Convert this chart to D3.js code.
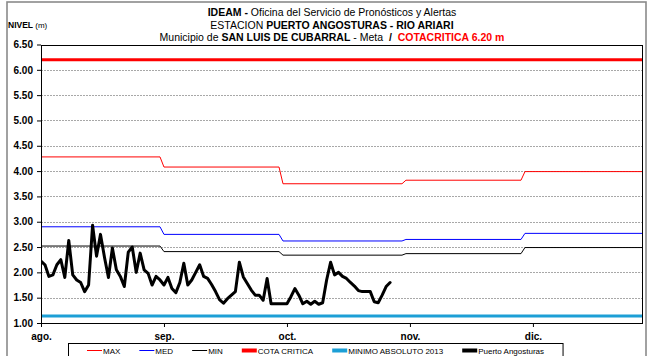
<!DOCTYPE html>
<html>
<head>
<meta charset="utf-8">
<script src="https://cdn.jsdelivr.net/npm/d3@7"></script>
<style>
  html, body { margin: 0; padding: 0; background: #fff; }
  svg { display: block; font-family: "Liberation Sans", Arial, sans-serif; }
  text { white-space: pre; }
</style>
</head>
<body>
<svg id="chart" width="653" height="356"></svg>
<script>
// Month labels along the x axis and the number of days of each month
const months = ["ago.", "sep.", "oct.", "nov.", "dic."];
const monthDays = [31, 30, 31, 30, 31];
const labelEvery = 31; // a month label every 31 days

// Monthly reference levels (m)
const maxLevels = [4.28, 4.08, 3.75, 3.82, 3.99];
const medLevels = [2.90, 2.75, 2.62, 2.65, 2.77];
const minLevels = [2.52, 2.41, 2.34, 2.37, 2.49];

// Fixed thresholds (m)
const cotaCritica = 6.20;
const minimoAbsoluto2013 = 1.14;

// Y axis ticks (m)
const yTicks = [1.0, 1.5, 2.0, 2.5, 3.0, 3.5, 4.0, 4.5, 5.0, 5.5, 6.0, 6.5];

// Daily level at Puerto Angosturas from 1 Aug (m)
const puertoAngosturas = [
  2.22, 2.15, 1.92, 1.95, 2.15, 2.25, 1.90, 2.63, 1.95, 1.85,
  1.80, 1.62, 1.75, 2.93, 2.32, 2.75, 2.30, 1.90, 2.48, 2.05,
  1.92, 1.72, 2.40, 2.50, 2.00, 2.38, 2.05, 1.98, 1.75, 1.92,
  1.85, 1.75, 1.90, 1.68, 1.60, 1.80, 2.18, 1.75, 1.85, 2.00,
  2.15, 1.92, 1.88, 1.76, 1.62, 1.46, 1.39, 1.48, 1.55, 1.62,
  2.20, 1.91, 1.78, 1.65, 1.55, 1.55, 1.45, 1.88, 1.38, 1.38,
  1.38, 1.38, 1.38, 1.52, 1.68, 1.55, 1.38, 1.43, 1.37, 1.43,
  1.37, 1.40, 1.85, 2.20, 1.95, 2.00, 1.92, 1.88, 1.80, 1.73,
  1.64, 1.62, 1.62, 1.62, 1.42, 1.40, 1.55, 1.72, 1.80
];

const svg = d3.select("#chart");
const plot = { left: 41, right: 642, top: 44.5, bottom: 323 };

const x = d3.scaleLinear().domain([0, 151.5]).range([plot.left, plot.right]);
const y = d3.scaleLinear().domain([1.0, 6.5]).range([plot.bottom, plot.top]);

// Outer chart frame
svg.append("rect")
  .attr("x", 7).attr("y", 2).attr("width", 639).attr("height", 380)
  .attr("fill", "none").attr("stroke", "#8a8a8a").attr("stroke-width", 1.6);

// Titles
const title = svg.append("g").attr("font-size", 10.5).attr("text-anchor", "middle");
const t1 = title.append("text").attr("x", 332).attr("y", 16);
t1.append("tspan").attr("font-weight", "bold").text("IDEAM - ");
t1.append("tspan").text("Oficina del Servicio de Pronósticos y Alertas");
const t2 = title.append("text").attr("x", 332).attr("y", 28.5);
t2.append("tspan").text("ESTACION ");
t2.append("tspan").attr("font-weight", "bold").text("PUERTO ANGOSTURAS - RIO ARIARI");
const t3 = title.append("text").attr("x", 332).attr("y", 40.5);
t3.append("tspan").text("Municipio de ");
t3.append("tspan").attr("font-weight", "bold").text("SAN LUIS DE CUBARRAL");
t3.append("tspan").text(" - Meta  ");
t3.append("tspan").attr("font-weight", "bold").text("/  ");
t3.append("tspan").attr("font-weight", "bold").attr("fill", "#ff0000").text("COTACRITICA 6.20 m");

const unit = svg.append("text").attr("x", 8).attr("y", 28).attr("font-size", 8.5);
unit.append("tspan").attr("font-weight", "bold").text("NIVEL ");
unit.append("tspan").attr("font-size", 8).text("(m)");

// Dotted gridlines
svg.append("g")
  .selectAll("line")
  .data(yTicks.filter(v => v > 1.0 && v < 6.5))
  .join("line")
  .attr("x1", plot.left).attr("x2", plot.right)
  .attr("y1", d => Math.round(y(d)) + 0.5).attr("y2", d => Math.round(y(d)) + 0.5)
  .attr("stroke", "#a8a8a8").attr("stroke-width", 1).attr("stroke-dasharray", "2,1");

// Axes
const yAxis = svg.append("g")
  .attr("transform", `translate(${plot.left},0)`)
  .call(d3.axisLeft(y).tickValues(yTicks).tickFormat(d3.format(".2f"))
    .tickSize(4).tickSizeOuter(0).tickPadding(4));
yAxis.select(".domain").remove();
yAxis.selectAll("text").attr("font-size", 10).attr("font-weight", "bold")
  .attr("fill", "#000").attr("font-family", "Liberation Sans, Arial, sans-serif");
yAxis.selectAll("line").attr("stroke", "#000");

const xTickValues = months.map((m, i) => i * labelEvery);
const xAxis = svg.append("g")
  .attr("transform", `translate(0,${plot.bottom})`)
  .call(d3.axisBottom(x).tickValues(xTickValues)
    .tickFormat(d => months[d / labelEvery])
    .tickSize(4).tickSizeOuter(0).tickPadding(6));
xAxis.select(".domain").remove();
xAxis.selectAll("text").attr("font-size", 10).attr("font-weight", "bold")
  .attr("fill", "#000").attr("font-family", "Liberation Sans, Arial, sans-serif");
xAxis.selectAll("line").attr("stroke", "#000");

// Clip for series
svg.append("clipPath").attr("id", "plotClip")
  .append("rect")
  .attr("x", plot.left).attr("y", plot.top)
  .attr("width", plot.right - plot.left).attr("height", plot.bottom - plot.top);

const series = svg.append("g").attr("clip-path", "url(#plotClip)");
const line = d3.line().x(d => x(d[0])).y(d => y(d[1]));

// Monthly steps: each month level spans its first to last day
const monthStarts = d3.cumsum([0, ...monthDays.slice(0, -1)]);
function stepPoints(levels) {
  const pts = [];
  levels.forEach((v, m) => {
    pts.push([monthStarts[m], v]);
    pts.push([monthStarts[m] + monthDays[m] - 1, v]);
  });
  return pts;
}
const lastDay = d3.sum(monthDays) - 1;

series.append("path").datum([[0, minimoAbsoluto2013], [lastDay, minimoAbsoluto2013]])
  .attr("d", line).attr("fill", "none").attr("stroke", "#1c9fd6").attr("stroke-width", 3);
series.append("path").datum([[0, cotaCritica], [lastDay, cotaCritica]])
  .attr("d", line).attr("fill", "none").attr("stroke", "#ff0000").attr("stroke-width", 3);
series.append("path").datum(stepPoints(maxLevels))
  .attr("d", line).attr("fill", "none").attr("stroke", "#ff0000").attr("stroke-width", 1);
series.append("path").datum(stepPoints(medLevels))
  .attr("d", line).attr("fill", "none").attr("stroke", "#0000ff").attr("stroke-width", 1);
series.append("path").datum(stepPoints(minLevels))
  .attr("d", line).attr("fill", "none").attr("stroke", "#000").attr("stroke-width", 1);

series.append("path").datum(puertoAngosturas.map((v, i) => [i, v]))
  .attr("d", line).attr("fill", "none").attr("stroke", "#000")
  .attr("stroke-width", 3).attr("stroke-linejoin", "round").attr("stroke-linecap", "round");

// Plot border
svg.append("rect")
  .attr("x", plot.left + 0.5).attr("y", Math.round(plot.top) + 0.5)
  .attr("width", plot.right - plot.left).attr("height", Math.round(plot.bottom) - Math.round(plot.top))
  .attr("fill", "none").attr("stroke", "#000").attr("stroke-width", 1);

// Legend
const legendItems = [
  { name: "MAX", color: "#ff0000", width: 1 },
  { name: "MED", color: "#0000ff", width: 1 },
  { name: "MIN", color: "#000000", width: 1 },
  { name: "COTA CRITICA", color: "#ff0000", width: 4 },
  { name: "MINIMO ABSOLUTO 2013", color: "#1c9fd6", width: 4 },
  { name: "Puerto Angosturas", color: "#000000", width: 4 }
];
const legend = svg.append("g");
const legendBox = legend.append("rect");
let lx = 87;
const ly = 350.5;
legendItems.forEach(item => {
  legend.append("line")
    .attr("x1", lx).attr("x2", lx + 15).attr("y1", ly).attr("y2", ly)
    .attr("stroke", item.color).attr("stroke-width", item.width);
  const t = legend.append("text")
    .attr("x", lx + 16).attr("y", ly + 3).attr("font-size", 8).text(item.name);
  lx += 16 + t.node().getComputedTextLength() + 19;
});
legendBox.attr("x", 68.5).attr("y", 343.5).attr("width", lx - 68.5).attr("height", 20)
  .attr("fill", "#fff").attr("stroke", "#000").attr("stroke-width", 1);
</script>
</body>
</html>
